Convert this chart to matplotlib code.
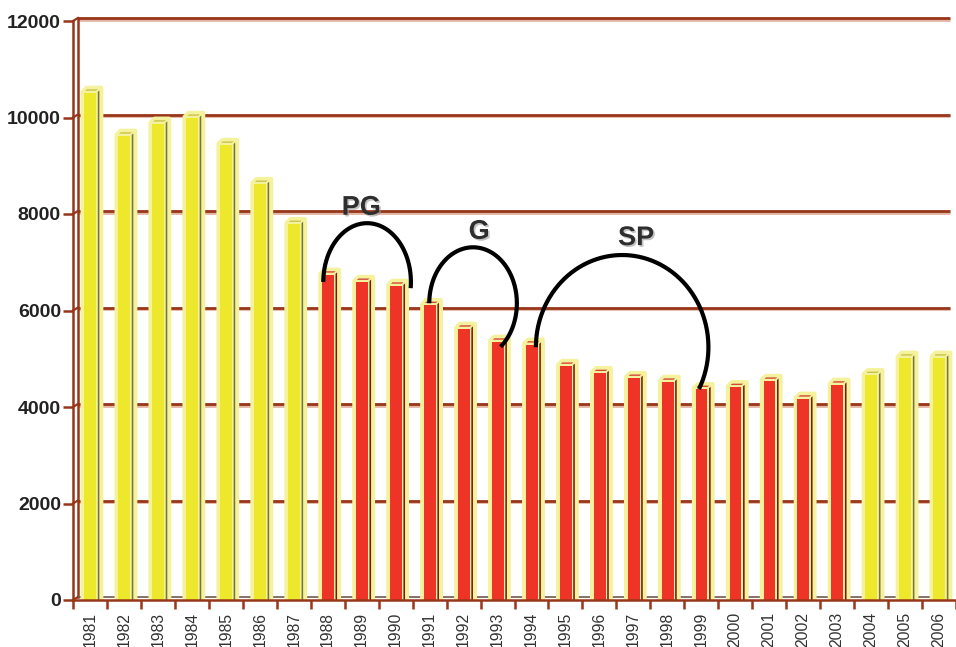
import numpy as np
import matplotlib
matplotlib.use("Agg")
import matplotlib.pyplot as plt
from matplotlib.patches import Polygon
from matplotlib import patheffects as pe

# ---- data -------------------------------------------------------------
years = ["1981", "1982", "1983", "1984", "1985", "1986", "1987", "1988", "1989",
         "1990", "1991", "1992", "1993", "1994", "1995", "1996", "1997", "1998",
         "1999", "2000", "2001", "2002", "2003", "2004", "2005", "2006"]
values = [10530, 9640, 9890, 10010, 9450, 8640, 7810, 6760, 6610,
          6530, 6130, 5640, 5370, 5310, 4870, 4720, 4620, 4540,
          4390, 4430, 4560, 4190, 4480, 4680, 5040, 5040]
# period flag: 1 = highlighted (red), 0 = normal (yellow)
highlight = [0, 0, 0, 0, 0, 0, 0, 1, 1, 1, 1, 1, 1, 1, 1, 1, 1, 1,
             1, 1, 1, 1, 1, 0, 0, 0]
y_ticks = [0, 2000, 4000, 6000, 8000, 10000, 12000]

# period arcs: label, centre (category, value), radii, angle range (deg), label pos
arcs = [
    ("PG", (8.16, 6590), (1.29, 1220), (-6, 180), (7.99, 8130)),
    ("G", (11.28, 6150), (1.29, 1160), (-51, 180), (11.46, 7630)),
    ("SP", (15.67, 5240), (2.54, 1910), (-27, 180), (16.08, 7500)),
]

# ---- style ------------------------------------------------------------
BROWN = "#983619"
GRID_SHADOW = "#e2b4a4"
Y_FRONT, Y_SIDE, Y_TOP = "#eee82c", "#77753a", "#c9c24a"
R_FRONT, R_SIDE, R_TOP = "#ee3327", "#7a1810", "#d2493a"
GLOW = "#f5f29d"

plt.rcParams["font.family"] = ["Liberation Sans", "DejaVu Sans"]

W, H = 956, 647
fig = plt.figure(figsize=(W / 100, H / 100), dpi=100)
ax_left, ax_right, ax_bottom, ax_top = 73, 956, 600, 21
ax = fig.add_axes([ax_left / W, (H - ax_bottom) / H,
                   (ax_right - ax_left) / W, (ax_bottom - ax_top) / H])

cat_px = 34.2
xmin = -0.5
xmax = xmin + (ax_right - ax_left) / cat_px
ax.set_xlim(xmin, xmax)
ax.set_ylim(0, 12000)

# pixel -> data conversions
ppx = (ax_right - ax_left) / (xmax - xmin)
ppy = (ax_bottom - ax_top) / 12000.0
def dx(p):
    return p / ppx
def dy(p):
    return p / ppy

wall_dx, wall_dy = dx(5), dy(3)

# back wall grid lines
for v in y_ticks[1:]:
    ax.plot([xmin + wall_dx, xmax], [v + wall_dy, v + wall_dy], color=BROWN,
            lw=2.0, solid_capstyle="butt", zorder=1, clip_on=False,
            path_effects=[pe.SimpleLineShadow(offset=(0, -1.2),
                                              shadow_color=GRID_SHADOW, alpha=1),
                          pe.Normal()])
    # small diagonal joining tick and wall
    ax.plot([xmin, xmin + wall_dx], [v, v + wall_dy], color=BROWN, lw=1.6,
            zorder=1, clip_on=False)
ax.plot([xmin, xmin + wall_dx], [0, wall_dy], color=BROWN, lw=1.6, zorder=1,
        clip_on=False)

# inner wall edge
ax.plot([xmin + wall_dx, xmin + wall_dx], [wall_dy, 12000 + wall_dy],
        color=BROWN, lw=1.8, zorder=1, clip_on=False)
# floor edge
ax.plot([xmin + wall_dx, xmax], [dy(2.8), dy(2.8)], color="#6e5a50",
        lw=1.2, zorder=1, solid_capstyle="butt")

# ---- 3D-looking bars -------------------------------------------------
bw = dx(14.5)
ox, oy = dx(4), dy(4)
for i, (v, hl) in enumerate(zip(values, highlight)):
    front_c, side_c, top_c = (R_FRONT, R_SIDE, R_TOP) if hl else (Y_FRONT, Y_SIDE, Y_TOP)
    x0, x1 = i - bw / 2, i + bw / 2
    outline = [(x0, 0), (x1 + ox, 0), (x1 + ox, v + oy), (x0 + ox, v + oy), (x0, v)]
    ax.add_patch(Polygon(outline, closed=True, facecolor=GLOW, edgecolor=GLOW,
                         lw=3.2, joinstyle="round", zorder=2))
    ax.add_patch(Polygon([(x0 + dx(1.5), 0), (x1 - dx(1.0), 0),
                          (x1 - dx(1.0), v - dy(1.0)), (x0 + dx(1.5), v - dy(1.0))],
                         closed=True, facecolor=front_c, edgecolor="none", zorder=3))
    ax.add_patch(Polygon([(x1 + dx(0.6), 0), (x1 + dx(2.2), 0),
                          (x1 + dx(2.2), v + dy(1.5)), (x1 + dx(0.6), v)],
                         closed=True, facecolor=side_c, edgecolor="none", zorder=3))
    ax.add_patch(Polygon([(x0 + dx(2.5), v + dy(1.2)), (x1 - dx(1.0), v + dy(1.2)),
                          (x1 + dx(0.8), v + dy(2.6)), (x0 + dx(4.0), v + dy(2.6))],
                         closed=True, facecolor=top_c, edgecolor="none", zorder=3))

# ---- period arcs ------------------------------------------------------
for label, (cx, cy), (rx, ry), (t0, t1), (lx, ly) in arcs:
    t = np.radians(np.linspace(t0, t1, 200))
    ax.plot(cx + rx * np.cos(t), cy + ry * np.sin(t), color="black", lw=3.0,
            solid_capstyle="butt", zorder=6, clip_on=False)
    ax.text(lx, ly, label, ha="center", va="center", fontsize=19.5,
            fontweight="bold", color="#2e2e2e", zorder=7,
            path_effects=[pe.withSimplePatchShadow(offset=(1.2, -1.2),
                                                   shadow_rgbFace="#9a9a9a",
                                                   alpha=0.6)])

# ---- axes -------------------------------------------------------------
for s in ("top", "right"):
    ax.spines[s].set_visible(False)
for s in ("left", "bottom"):
    ax.spines[s].set_color(BROWN)
    ax.spines[s].set_linewidth(1.8)
    ax.spines[s].set_zorder(4)

ax.set_yticks(y_ticks)
ax.set_yticklabels([str(v) for v in y_ticks])
ax.tick_params(axis="y", length=7.2, width=1.8, color=BROWN, pad=1.5,
               labelsize=14, labelcolor="#222222")
for lab in ax.get_yticklabels():
    lab.set_fontweight("bold")

ax.set_xticks(np.arange(len(years)))
ax.set_xticklabels(years, rotation=90, va="top", ha="center")
ax.set_xticks(np.arange(len(years) + 1) - 0.5, minor=True)
ax.tick_params(axis="x", which="major", length=0, pad=8.5, labelsize=11.3,
               labelcolor="#333333")
ax.tick_params(axis="x", which="minor", length=6.5, width=1.8, color=BROWN)
ax.set_facecolor("white")
fig.patch.set_facecolor("white")

fig.savefig("out.png", dpi=100)
